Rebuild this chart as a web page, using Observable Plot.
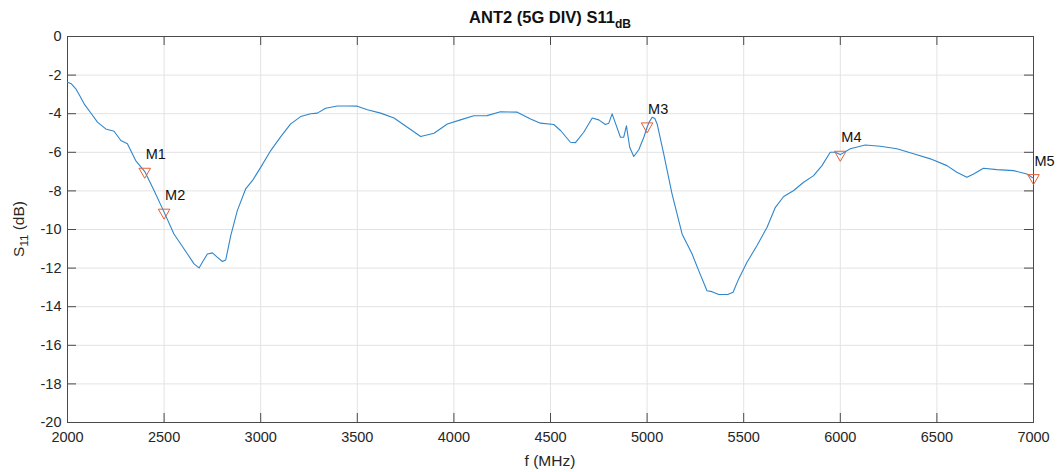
<!DOCTYPE html>
<html>
<head>
<meta charset="utf-8">
<script src="https://cdn.jsdelivr.net/npm/d3@7"></script>
<script src="https://cdn.jsdelivr.net/npm/@observablehq/plot@0.6"></script>
<style>
  html, body { margin: 0; padding: 0; background: #fff; }
  #chart svg { display: block; }
</style>
</head>
<body>
<div id="chart"></div>
<script>
// ---- data ----
const freqMHz = [2000,2020,2043,2065,2086,2120,2155,2198,2241,2276,2310,2353,2400,2448,2500,2551,2586,2621,2655,2681,2698,2724,2750,2776,2802,2819,2845,2879,2922,2957,3000,3052,3103,3155,3207,3259,3293,3336,3397,3450,3500,3552,3621,3690,3759,3828,3897,3966,4034,4103,4172,4241,4328,4397,4448,4517,4552,4603,4629,4672,4716,4750,4784,4802,4819,4836,4862,4879,4893,4910,4931,4957,4983,5000,5010,5026,5040,5052,5086,5129,5181,5233,5267,5310,5336,5371,5417,5445,5474,5517,5569,5621,5664,5707,5759,5810,5862,5905,5948,5974,6000,6052,6129,6207,6293,6379,6466,6552,6603,6655,6690,6741,6810,6897,6966,6991,7000];
const s11dB = [-2.37,-2.45,-2.71,-3.1,-3.49,-3.95,-4.44,-4.79,-4.91,-5.39,-5.56,-6.43,-7.0,-7.98,-9.1,-10.23,-10.75,-11.27,-11.78,-11.99,-11.7,-11.27,-11.21,-11.44,-11.66,-11.58,-10.32,-9.02,-7.9,-7.47,-6.78,-5.91,-5.2,-4.53,-4.15,-4.0,-3.97,-3.72,-3.6,-3.6,-3.61,-3.8,-3.97,-4.22,-4.7,-5.18,-5.01,-4.53,-4.32,-4.11,-4.1,-3.9,-3.92,-4.27,-4.49,-4.56,-4.87,-5.48,-5.5,-4.96,-4.22,-4.32,-4.56,-4.49,-4.01,-4.49,-5.22,-5.22,-4.63,-5.74,-6.22,-5.87,-5.22,-4.7,-4.45,-4.18,-4.25,-4.53,-6.08,-8.15,-10.23,-11.27,-12.13,-13.17,-13.22,-13.37,-13.37,-13.25,-12.56,-11.7,-10.83,-9.88,-8.85,-8.29,-7.98,-7.55,-7.21,-6.69,-6.0,-6.0,-6.12,-5.82,-5.62,-5.69,-5.82,-6.08,-6.34,-6.69,-7.03,-7.29,-7.12,-6.83,-6.9,-6.95,-7.12,-7.29,-7.33];

const markerNames = ["M1","M2","M3","M4","M5"];
const markerFreq = [2400,2500,5000,6000,7000];
const markerDB = [-7.0,-9.12,-4.65,-6.12,-7.33];

const xTicks = [2000,2500,3000,3500,4000,4500,5000,5500,6000,6500,7000];
const yTicks = [-20,-18,-16,-14,-12,-10,-8,-6,-4,-2,0];

const titleText = "ANT2 (5G DIV) S11";
const titleSub = "dB";
const xLabel = "f (MHz)";
const yLabelMain = "S";
const yLabelSub = "11";
const yLabelRest = " (dB)";

// ---- tables ----
const curve = freqMHz.map((f, i) => ({f, v: s11dB[i]}));
const markers = markerNames.map((n, i) => ({name: n, f: markerFreq[i], v: markerDB[i]}));

const W = 1058, H = 472;
const mL = 67, mR = 25, mT = 36, mB = 50;
const frameW = W - mL - mR, frameH = H - mT - mB;
const tickLen = 9;
const axisColor = "#4a4a4a";
const FONT = "'Liberation Sans', Arial, Helvetica, sans-serif";

const chart = Plot.plot({
  width: W,
  height: H,
  marginLeft: mL, marginRight: mR, marginTop: mT, marginBottom: mB,
  style: {fontFamily: FONT, fontSize: "14.5px", color: "#262626", background: "#fff"},
  x: {domain: [2000, 7000], ticks: xTicks, tickSize: 0, tickPadding: 9, tickFormat: d => String(d), label: null},
  y: {domain: [-20, 0], ticks: yTicks, tickSize: 0, tickPadding: 6, tickFormat: d => String(d), label: null},
  marks: [
    Plot.gridX(xTicks, {stroke: "#e3e3e3", strokeOpacity: 1}),
    Plot.gridY(yTicks, {stroke: "#e3e3e3", strokeOpacity: 1}),
    Plot.tickX(xTicks, {x: d => d, insetTop: frameH - tickLen, stroke: axisColor}),
    Plot.tickX(xTicks, {x: d => d, insetBottom: frameH - tickLen, stroke: axisColor}),
    Plot.tickY(yTicks, {y: d => d, insetRight: frameW - tickLen, stroke: axisColor}),
    Plot.tickY(yTicks, {y: d => d, insetLeft: frameW - tickLen, stroke: axisColor}),
    Plot.frame({stroke: axisColor}),
    Plot.line(curve, {x: "f", y: "v", stroke: "#2f86cc", strokeWidth: 1.1}),
    Plot.dot(markers, {x: "f", y: "v", symbol: "triangle", rotate: 180, r: 4.3, stroke: "#e2603a", strokeWidth: 1, fill: "none"}),
    Plot.text(markers, {x: "f", y: "v", text: "name", dx: 1, dy: -17, textAnchor: "start", fill: "#111", fontSize: 14.5})
  ]
});

document.getElementById("chart").appendChild(chart);

const svg = d3.select(chart);
// title
const t = svg.append("text")
  .attr("x", mL + frameW / 2).attr("y", 23)
  .attr("text-anchor", "middle")
  .attr("font-family", FONT).attr("font-weight", "bold").attr("font-size", 16.5)
  .attr("fill", "#111");
t.append("tspan").text(titleText);
t.append("tspan").attr("dy", 5).attr("font-size", 12).text(titleSub);

// x label
svg.append("text")
  .attr("x", mL + frameW / 2).attr("y", 466)
  .attr("text-anchor", "middle")
  .attr("font-family", FONT).attr("font-size", 15.5)
  .attr("fill", "#262626")
  .text(xLabel);

// y label
const yl = svg.append("text")
  .attr("transform", `translate(24,${mT + frameH / 2}) rotate(-90)`)
  .attr("text-anchor", "middle")
  .attr("font-family", FONT).attr("font-size", 15.5)
  .attr("fill", "#262626");
yl.append("tspan").text(yLabelMain);
yl.append("tspan").attr("dy", 4).attr("font-size", 11.5).text(yLabelSub);
yl.append("tspan").attr("dy", -4).text(yLabelRest);
</script>
</body>
</html>
